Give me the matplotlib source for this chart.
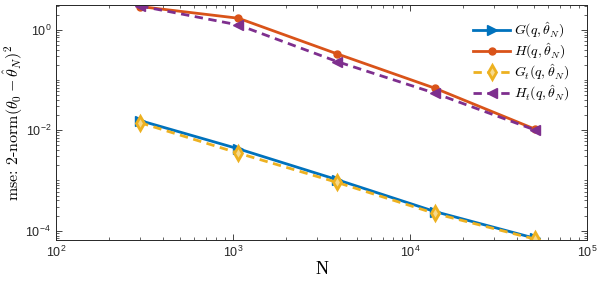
import matplotlib
matplotlib.use('Agg')
import matplotlib.pyplot as plt
from matplotlib.ticker import FuncFormatter, LogLocator
import numpy as np

plt.rcParams['mathtext.fontset'] = 'cm'
plt.rcParams['font.family'] = 'Liberation Sans'
plt.rcParams['axes.formatter.use_mathtext'] = True

# sample sizes
N = [299, 1074, 3890, 13840, 50800]

# mse values
G = [0.0155, 0.00425, 0.00103, 0.00024, 0.0000706]
H = [2.89, 1.69, 0.329, 0.0684, 0.0105]
Gt = [0.0141, 0.00349, 0.00091, 0.00022, 0.000068]
Ht = [2.96, 1.24, 0.231, 0.0544, 0.0101]

labels = [r'$G(q,\hat{\theta}_N)$', r'$H(q,\hat{\theta}_N)$',
          r'$G_t(q,\hat{\theta}_N)$', r'$H_t(q,\hat{\theta}_N)$']

blue = '#0072BD'
orange = '#D95319'
yellow = '#EDB120'
purple = '#7E2F8E'

fig = plt.figure(figsize=(5.98, 2.82), dpi=100)
ax = fig.add_axes([0.0936, 0.149, 0.888, 0.833])

ax.plot(N, G, color=blue, lw=2, marker='>', ms=7, label=labels[0])
ax.plot(N, H, color=orange, lw=2, marker='o', ms=5, label=labels[1])
ax.plot(N, Gt, color=yellow, lw=2, ls=(0, (3, 2)), marker='d', ms=7,
        mfc='#f6d98c', mew=2, label=labels[2])
ax.plot(N, Ht, color=purple, lw=2, ls=(0, (3, 2)), marker='<', ms=7, label=labels[3])

ax.set_xscale('log')
ax.set_yscale('log')
ax.set_xlim(1e2, 1e5)
ax.set_ylim(10**-4.185, 10**0.49)

ax.xaxis.set_major_locator(LogLocator(base=10, numticks=10))
ax.yaxis.set_major_locator(LogLocator(base=100, numticks=10))
ax.yaxis.set_minor_locator(LogLocator(base=10, subs=np.arange(1, 10), numticks=20))
fmt = FuncFormatter(lambda v, p: r'$\mathregular{10^{%d}}$' % int(round(np.log10(v))))
ax.xaxis.set_major_formatter(fmt)
ax.yaxis.set_major_formatter(fmt)
ax.yaxis.set_minor_formatter(FuncFormatter(lambda v, p: ''))

ax.tick_params(which='both', direction='in', top=True, right=True,
               labelsize=9, colors='#262626')
ax.tick_params(which='major', length=4, width=0.6)
ax.tick_params(which='minor', length=2.5, width=0.5)
for s in ax.spines.values():
    s.set_linewidth(0.7)
    s.set_color('#262626')

ax.set_xlabel('N', fontfamily='Liberation Serif', fontsize=13, labelpad=1)
ax.set_ylabel(r'mse: 2-norm$(\theta_0-\hat{\theta}_N)^2$', fontfamily='cmr10',
              fontsize=11.5)
ax.yaxis.set_label_coords(-0.058, 0.5)

ax.legend(loc='upper right', frameon=False, fontsize=10, handlelength=2.65,
          borderaxespad=0, borderpad=0, labelspacing=0.1, handletextpad=0.3,
          bbox_to_anchor=(0.968, 0.935))

fig.savefig('out.png', dpi=100)
